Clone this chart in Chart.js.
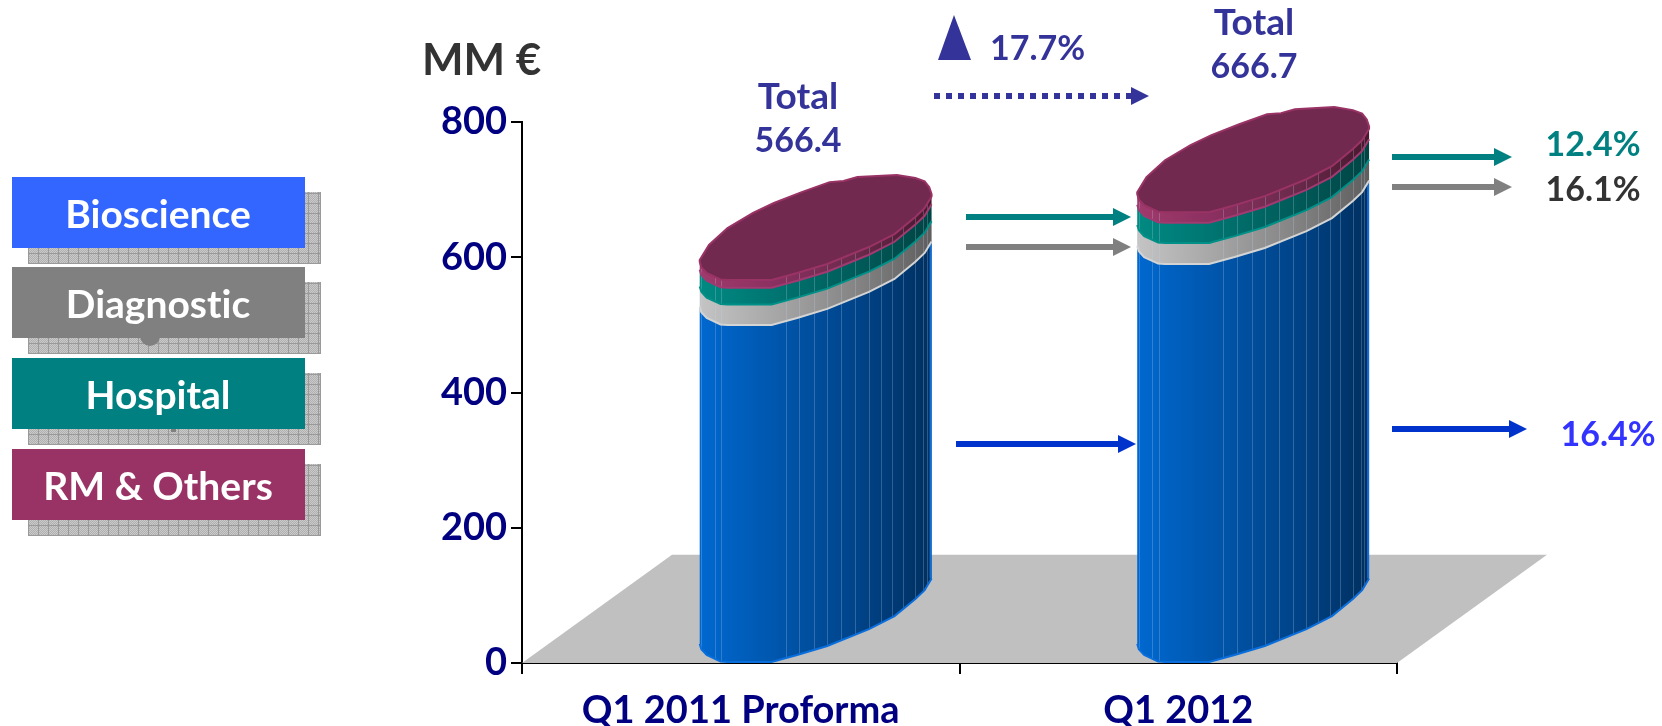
<!DOCTYPE html>
<html>
<head>
<meta charset="utf-8">
<title>Sales by division</title>
<script src="https://cdn.jsdelivr.net/npm/chart.js@4"></script>
<style>
  html, body { margin: 0; background: #fff; }
  canvas { display: block; font-variant-ligatures: none; }
</style>
</head>
<body>
<canvas id="sales" width="1662" height="726"></canvas>
<script>
// Data
const categories = ['Q1 2011 Proforma', 'Q1 2012'];
const bioscience = [500, 590];
const diagnostic = [30, 31];
const hospital = [25, 30];
const rmOthers = [11.4, 15.7];
const yTickStep = 200;
const yMax = 800;
const overallGrowth = '17.7%';
const hospitalGrowth = '12.4%';
const diagnosticGrowth = '16.1%';
const bioscienceGrowth = '16.4%';

const fontFamily = 'Lato, "Open Sans", sans-serif';
const navy = '#000080';
const indigo = '#333399';
const teal = '#008080';

// Colours of the cylinder sides, left to right, plus the legend colour
const segmentStyles = [
  { legend: '#3366ff', edge: '#0a6fdc', side: ['#0068d0', '#0056ac', '#00448a', '#003060'] },
  { legend: '#808080', edge: '#d4d4d4', side: ['#c4c4c4', '#a6a6a6', '#858585', '#5e5e5e'] },
  { legend: teal, edge: '#009088', side: ['#008a82', '#007470', '#005c5a', '#004444'] },
  { legend: '#993366', edge: '#a03a70', side: ['#a03a6c', '#8a3060', '#6c2a4c', '#48182e'] },
];
const topFaceColor = '#72294f';

// Outline of the tilted cylinder: [share of bar width, rise as share of bar width]
const frontProfile = [[0, .078], [.007, .055], [.03, .03], [.09, .002], [.12, 0], [.31, 0], [.42, .03], [.55, .069], [.73, .142], [.84, .198], [.93, .272], [.97, .31], [1, .36]];
const backProfile = [[0, .086], [.04, .151], [.12, .224], [.23, .289], [.32, .332], [.44, .379], [.56, .422], [.62, .427], [.68, .444], [.85, .453], [.93, .44], [.97, .425], [.99, .40], [1, .37]];
const facetLines = [.007, .065, .093, .37, .43, .495, .55, .61, .67, .73, .78, .83, .875, .93, .965, .98];
const barShift = .323;

// Where the totals sit
const totalLabels = [{ x: 798, y: 141 }, { x: 1254, y: 67 }];

// Annotation arrows: x0, x1, y, colour
const arrows = [
  { x0: 966, x1: 1131, y: 217, color: teal },
  { x0: 966, x1: 1131, y: 247, color: '#808080' },
  { x0: 956, x1: 1136, y: 444, color: '#0033cc' },
  { x0: 1392, x1: 1512, y: 157, color: teal },
  { x0: 1392, x1: 1512, y: 187, color: '#808080' },
  { x0: 1392, x1: 1527, y: 429, color: '#0033cc' },
];
const legendBoxes = [177, 267, 358, 449];

function drawText(ctx, text, x, y, size, color, align) {
  ctx.font = 'bold ' + size + 'px ' + fontFamily;
  ctx.fillStyle = color;
  ctx.textAlign = align || 'center';
  ctx.textBaseline = 'middle';
  ctx.fillText(text, x, y);
}

function drawArrow(ctx, a) {
  ctx.fillStyle = a.color;
  ctx.fillRect(a.x0, a.y - 3, a.x1 - a.x0 - 16, 6);
  ctx.beginPath();
  ctx.moveTo(a.x1, a.y);
  ctx.lineTo(a.x1 - 18, a.y - 9);
  ctx.lineTo(a.x1 - 18, a.y + 9);
  ctx.closePath();
  ctx.fill();
}

function shadowTile() {
  const tile = document.createElement('canvas');
  tile.width = 10;
  tile.height = 10;
  const t = tile.getContext('2d');
  t.fillStyle = '#cacaca';
  t.fillRect(0, 0, 10, 10);
  t.fillStyle = '#b0b0b0';
  for (let i = 0; i < 10; i++) {
    for (let j = 0; j < 10; j++) {
      if ((i + j) % 2 === 0) t.fillRect(i, j, 1, 1);
    }
  }
  t.fillStyle = '#9a9a9a';
  t.fillRect(0, 0, 10, 1);
  t.fillRect(0, 0, 1, 10);
  return tile;
}

function tracePath(ctx, points, left, width, level, reverse) {
  const list = reverse ? points.slice().reverse() : points;
  list.forEach(p => {
    ctx.lineTo(left + p[0] * width, level - p[1] * width);
  });
}

function sideGradient(ctx, left, width, stops) {
  const g = ctx.createLinearGradient(left, 0, left + width, 0);
  stops.forEach((c, i) => g.addColorStop(i / (stops.length - 1), c));
  return g;
}

const cylinderPlugin = {
  id: 'cylinders',
  beforeDatasetsDraw(chart) {
    const { ctx, chartArea, scales } = chart;
    const floorY = scales.y.getPixelForValue(0);
    const backY = scales.y.getPixelForValue(160);
    ctx.save();
    ctx.fillStyle = '#c0c0c0';
    ctx.beginPath();
    ctx.moveTo(chartArea.left, floorY);
    ctx.lineTo(chartArea.left + 150, backY);
    ctx.lineTo(chartArea.right + 150, backY);
    ctx.lineTo(chartArea.right, floorY);
    ctx.closePath();
    ctx.fill();
    ctx.restore();
  },
  afterDatasetsDraw(chart) {
    const { ctx } = chart;
    ctx.save();
    categories.forEach((cat, i) => {
      let topBar = null;
      chart.data.datasets.forEach((ds, d) => {
        const bar = chart.getDatasetMeta(d).data[i];
        const style = segmentStyles[d];
        const left = bar.x - bar.width / 2 + barShift * bar.width;
        ctx.beginPath();
        ctx.moveTo(left, bar.base - frontProfile[0][1] * bar.width);
        tracePath(ctx, frontProfile, left, bar.width, bar.base, false);
        tracePath(ctx, frontProfile, left, bar.width, bar.y, true);
        ctx.closePath();
        ctx.fillStyle = sideGradient(ctx, left, bar.width, style.side);
        ctx.fill();

        ctx.save();
        ctx.clip();
        ctx.strokeStyle = 'rgba(190, 210, 235, .25)';
        ctx.lineWidth = 1;
        facetLines.forEach(f => {
          const fx = Math.round(left + f * bar.width) + .5;
          ctx.beginPath();
          ctx.moveTo(fx, bar.y - bar.width);
          ctx.lineTo(fx, bar.base);
          ctx.stroke();
        });
        ctx.restore();

        // bright rim along the lower edge of each band
        ctx.beginPath();
        ctx.moveTo(left, bar.base - frontProfile[0][1] * bar.width);
        tracePath(ctx, frontProfile, left, bar.width, bar.base, false);
        ctx.strokeStyle = style.edge;
        ctx.lineWidth = 2;
        ctx.stroke();
        if (d === 0) {
          ctx.fillStyle = style.edge;
          ctx.fillRect(left + bar.width - 2, bar.y - .36 * bar.width, 2, bar.base - bar.y);
        }
        topBar = { bar, left };
      });

      // top face of the stack
      const { bar, left } = topBar;
      ctx.beginPath();
      ctx.moveTo(left, bar.y - frontProfile[0][1] * bar.width);
      tracePath(ctx, backProfile, left, bar.width, bar.y, false);
      tracePath(ctx, frontProfile, left, bar.width, bar.y, true);
      ctx.closePath();
      ctx.fillStyle = topFaceColor;
      ctx.fill();
      ctx.strokeStyle = segmentStyles[3].legend;
      ctx.lineWidth = 2;
      ctx.stroke();

      // total above the cylinder
      const total = bioscience[i] + diagnostic[i] + hospital[i] + rmOthers[i];
      const pos = totalLabels[i];
      drawText(ctx, 'Total', pos.x, pos.y - 44, 37, indigo);
      drawText(ctx, total.toFixed(1), pos.x, pos.y, 34, indigo);
    });
    ctx.restore();
  },
  afterDraw(chart) {
    const { ctx } = chart;
    ctx.save();

    // legend
    const pattern = ctx.createPattern(shadowTile(), 'repeat');
    chart.data.datasets.forEach((ds, d) => {
      const top = legendBoxes[d];
      pattern.setTransform(new DOMMatrix().translate(8, top + 86));
      ctx.fillStyle = pattern;
      ctx.fillRect(28, top + 15, 293, 72);
      ctx.fillStyle = '#9a9a9a';
      ctx.fillRect(28, top + 86, 293, 1);
      ctx.fillRect(320, top + 15, 1, 72);
    });
    // stray leftovers peeking out below the boxes
    ctx.fillStyle = '#808080';
    ctx.beginPath();
    ctx.arc(150, 336, 10, 0, Math.PI);
    ctx.fill();
    ctx.fillRect(171, 429, 5, 3);
    chart.data.datasets.forEach((ds, d) => {
      const top = legendBoxes[d];
      ctx.fillStyle = segmentStyles[d].legend;
      ctx.fillRect(12, top, 293, 71);
      drawText(ctx, ds.label, 158, top + 38, 39, '#fff');
    });

    // labels and arrows
    drawText(ctx, 'MM €', 422, 61, 44, '#333', 'left');
    arrows.forEach(a => drawArrow(ctx, a));
    drawText(ctx, hospitalGrowth, 1593, 145, 34, teal);
    drawText(ctx, diagnosticGrowth, 1593, 190, 34, '#333');
    drawText(ctx, bioscienceGrowth, 1608, 435, 34, '#3333ff');

    // overall growth marker
    ctx.fillStyle = indigo;
    ctx.beginPath();
    ctx.moveTo(954, 15);
    ctx.lineTo(971, 60);
    ctx.lineTo(938, 60);
    ctx.closePath();
    ctx.fill();
    drawText(ctx, overallGrowth, 990, 49, 34, indigo, 'left');

    ctx.strokeStyle = indigo;
    ctx.lineWidth = 6;
    ctx.setLineDash([6, 6]);
    ctx.beginPath();
    ctx.moveTo(934, 96);
    ctx.lineTo(1134, 96);
    ctx.stroke();
    ctx.setLineDash([]);
    ctx.beginPath();
    ctx.moveTo(1149, 96);
    ctx.lineTo(1131, 87);
    ctx.lineTo(1131, 105);
    ctx.closePath();
    ctx.fill();
    ctx.restore();
  }
};

new Chart(document.getElementById('sales'), {
  type: 'bar',
  data: {
    labels: categories,
    datasets: [
      { label: 'Bioscience', data: bioscience },
      { label: 'Diagnostic', data: diagnostic },
      { label: 'Hospital', data: hospital },
      { label: 'RM & Others', data: rmOthers },
    ].map(ds => ({ ...ds, backgroundColor: 'transparent', borderWidth: 0, barPercentage: .53, categoryPercentage: 1 }))
  },
  options: {
    responsive: false,
    animation: false,
    layout: { padding: { left: 432, right: 265, top: 122, bottom: 0 } },
    plugins: { legend: { display: false }, tooltip: { enabled: false } },
    scales: {
      x: {
        stacked: true,
        afterFit: scale => { scale.height = 63; },
        grid: { display: true, drawOnChartArea: false, offset: true, color: '#000', lineWidth: 2, tickLength: 11 },
        border: { color: '#000', width: 2 },
        ticks: { color: navy, padding: 14, maxRotation: 0, font: { family: fontFamily, size: 38, weight: 'bold' } }
      },
      y: {
        stacked: true,
        min: 0,
        max: yMax,
        afterFit: scale => { scale.width = 90; },
        grid: { display: true, drawOnChartArea: false, color: '#000', lineWidth: 2, tickLength: 11 },
        border: { color: '#000', width: 2 },
        ticks: { stepSize: yTickStep, color: navy, padding: 4, font: { family: fontFamily, size: 38, weight: 'bold' } }
      }
    }
  },
  plugins: [cylinderPlugin]
});
</script>
</body>
</html>
